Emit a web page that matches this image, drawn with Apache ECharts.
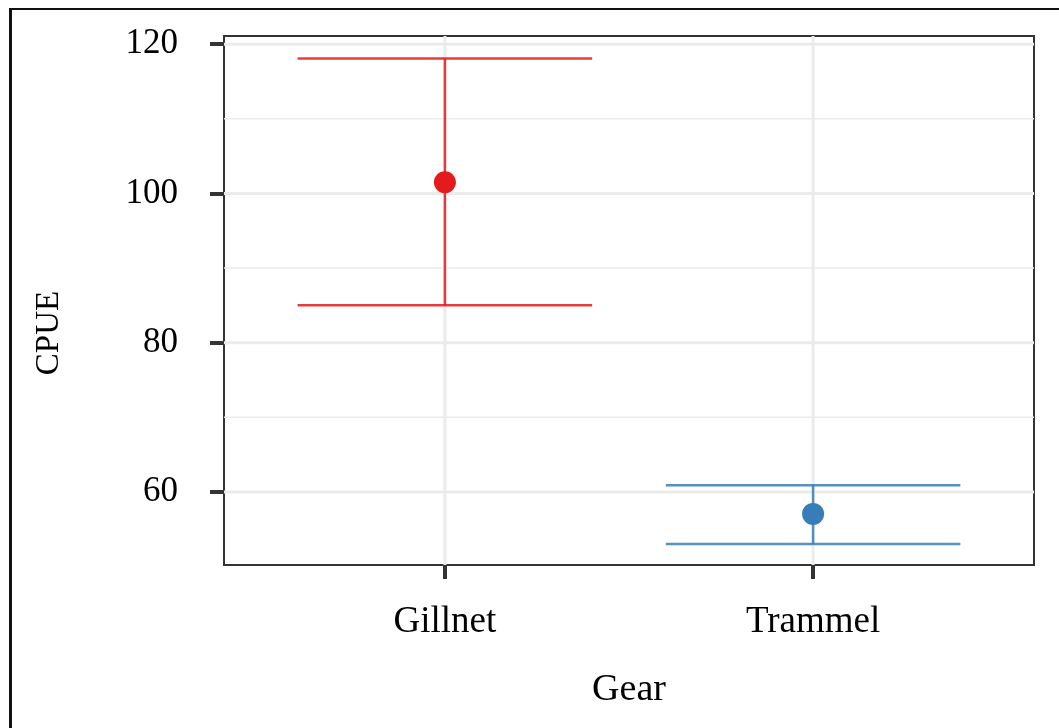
<!DOCTYPE html>
<html>
<head>
<meta charset="utf-8">
<script src="https://cdn.jsdelivr.net/npm/echarts@6/dist/echarts.min.js"></script>
<style>
  html, body { margin: 0; padding: 0; background: #fff; }
  #chart { width: 1059px; height: 728px; }
</style>
</head>
<body>
<div id="chart"></div>
<script>
// data
var gears = ['Gillnet', 'Trammel'];
var gearPos = [1, 2];
var cpueMean = [101.5, 57.05];
var cpueLow = [85.0, 53.0];
var cpueHigh = [118.1, 60.9];
var yTicks = [60, 80, 100, 120];
var yMinor = [70, 90, 110];

var font = 'Liberation Serif';
var colors = ['#E41A1C', '#377EB8'];

var myChart = echarts.init(document.getElementById('chart'));

function gridLine(vertical) {
  return function (params, api) {
    var v = api.value(0);
    var w = api.value(1);
    var cs = params.coordSys;
    var a, b;
    if (vertical) {
      a = [api.coord([v, 0])[0], cs.y];
      b = [a[0], cs.y + cs.height];
    } else {
      a = [cs.x, api.coord([1, v])[1]];
      b = [cs.x + cs.width, a[1]];
    }
    return {
      type: 'line',
      shape: { x1: a[0], y1: a[1], x2: b[0], y2: b[1] },
      style: { stroke: '#EBEBEB', lineWidth: w }
    };
  };
}

var hLines = yTicks.map(function (v) { return [v, 3]; })
  .concat(yMinor.map(function (v) { return [v, 1.5]; }));
var vLines = gearPos.map(function (v) { return [v, 3]; });

var seriesList = [
  {
    type: 'custom',
    renderItem: gridLine(false),
    data: hLines,
    silent: true,
    z: 1
  },
  {
    type: 'custom',
    renderItem: gridLine(true),
    data: vLines,
    silent: true,
    z: 1
  }
];

gears.forEach(function (g, i) {
  seriesList.push({
    name: g,
    type: 'custom',
    z: 3,
    renderItem: function (params, api) {
      var x = api.value(0);
      var top = api.coord([x, api.value(2)]);
      var bot = api.coord([x, api.value(1)]);
      var half = api.size([0.4, 0])[0];
      var st = { stroke: colors[i], lineWidth: 2.5, opacity: 0.85 };
      return {
        type: 'group',
        children: [
          { type: 'line', shape: { x1: top[0], y1: top[1], x2: bot[0], y2: bot[1] }, style: st },
          { type: 'line', shape: { x1: top[0] - half, y1: top[1], x2: top[0] + half, y2: top[1] }, style: st },
          { type: 'line', shape: { x1: bot[0] - half, y1: bot[1], x2: bot[0] + half, y2: bot[1] }, style: st }
        ]
      };
    },
    data: [[gearPos[i], cpueLow[i], cpueHigh[i]]]
  });
  seriesList.push({
    name: g,
    type: 'scatter',
    z: 4,
    symbolSize: 22,
    itemStyle: { color: colors[i], opacity: 1 },
    data: [[gearPos[i], cpueMean[i]]]
  });
});

myChart.setOption({
  backgroundColor: '#fff',
  animation: false,
  grid: {
    left: 224,
    right: 25,
    top: 36,
    bottom: 163,
    show: true,
    backgroundColor: '#fff',
    borderColor: '#333',
    borderWidth: 2
  },
  xAxis: {
    type: 'value',
    min: 0.4,
    max: 2.6,
    name: 'Gear',
    nameLocation: 'middle',
    nameGap: 106,
    nameTextStyle: { fontFamily: font, fontSize: 38, color: '#000' },
    axisLine: { show: false },
    splitLine: { show: false },
    axisTick: {
      show: true,
      customValues: gearPos,
      length: 14,
      lineStyle: { color: '#333', width: 4 }
    },
    axisLabel: {
      customValues: gearPos,
      margin: 39,
      fontFamily: font,
      fontSize: 37,
      color: '#000',
      formatter: function (v) { return gears[gearPos.indexOf(v)] || ''; }
    }
  },
  yAxis: {
    type: 'value',
    min: 50.2,
    max: 121.1,
    axisLine: { show: false },
    splitLine: { show: false },
    axisTick: {
      show: true,
      customValues: yTicks,
      length: 14,
      lineStyle: { color: '#333', width: 4 }
    },
    axisLabel: {
      customValues: yTicks,
      margin: 46,
      fontFamily: font,
      fontSize: 35,
      color: '#000'
    }
  },
  graphic: [
    {
      type: 'text',
      x: 49,
      y: 333,
      rotation: Math.PI / 2,
      style: {
        text: 'CPUE',
        fontFamily: font,
        fontSize: 33,
        fill: '#000',
        textAlign: 'center',
        textVerticalAlign: 'middle'
      }
    },
    { type: 'line', shape: { x1: 10.5, y1: 9, x2: 1059, y2: 9 }, style: { stroke: '#111', lineWidth: 2 } },
    { type: 'line', shape: { x1: 10.5, y1: 8, x2: 10.5, y2: 728 }, style: { stroke: '#111', lineWidth: 3 } }
  ],
  series: seriesList
});
</script>
</body>
</html>
